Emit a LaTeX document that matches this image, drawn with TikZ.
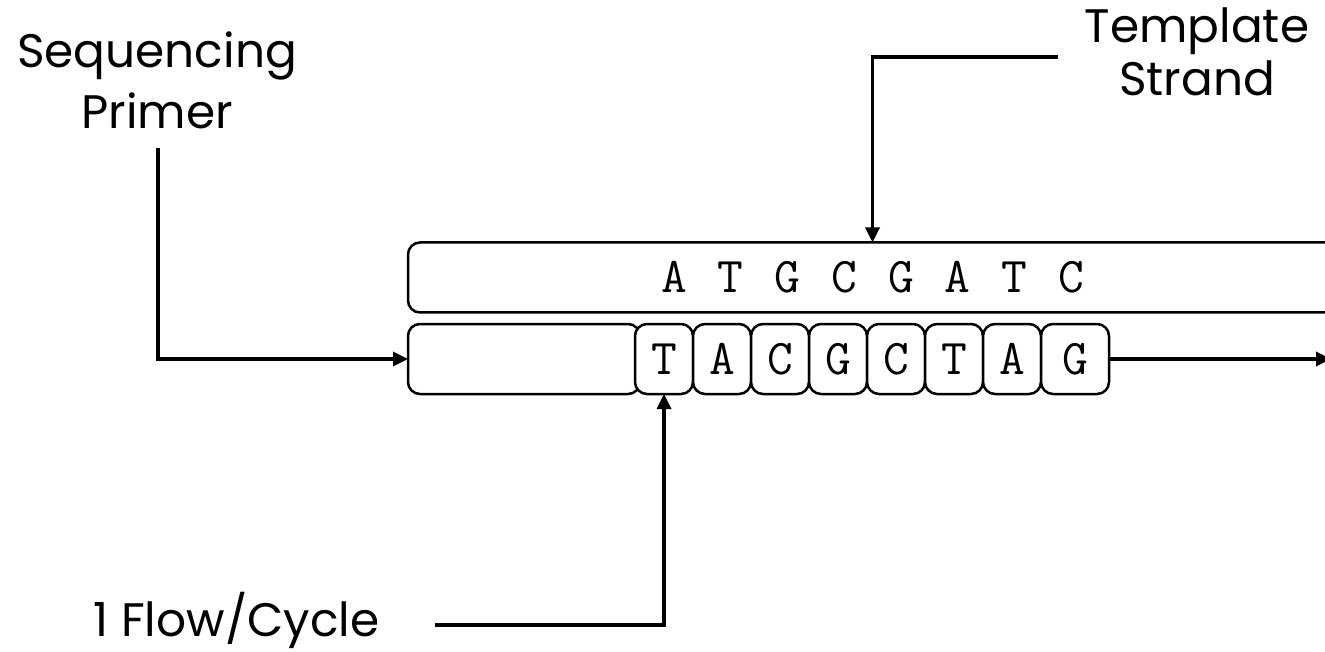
\documentclass[tikz,border=0pt]{standalone}
\usepackage{fontspec}
\setmainfont{Poppins}
\usetikzlibrary{arrows.meta, positioning}
\tikzstyle{strand}=[draw,rectangle,rounded corners=12,line width=2.5,minimum height=70,inner sep=0,outer sep=0]
\tikzstyle{basebox}=[strand,fill=white,minimum width=58,font=\ttfamily\fontsize{50}{50}\selectfont]
\tikzstyle{caption}=[align=center,inner sep=0]
\tikzstyle{every node}=[font=\fontsize{47}{60}\selectfont]

\begin{document}
\begin{tikzpicture}[x=1pt,y=-1pt,>={Triangle[length=15,width=14]},line width=3.3]
    \useasboundingbox (0,0) rectangle (1325,652);
    % strands
    \node[strand,minimum width=929,font=\ttfamily\fontsize{50}{50}\selectfont] (template) at (872.5,277.5) {\spaceskip=31pt A T G C G A T C};
    \node[strand,minimum width=232] (primer) at (524,359) {};
    \node[basebox] (b1) at (664,359) {T};
    \node[basebox,right=0 of b1] (b2) {A};
    \node[basebox,right=0 of b2] (b3) {C};
    \node[basebox,right=0 of b3] (b4) {G};
    \node[basebox,right=0 of b4] (b5) {C};
    \node[basebox,right=0 of b5] (b6) {T};
    \node[basebox,right=0 of b6] (b7) {A};
    \node[basebox,right=0 of b7,minimum width=68] (b8) {G};
    % labels
    \node[caption,font=\fontsize{47}{61}\selectfont] (seqlbl) at (157,80) {Sequencing\\Primer};
    \node[caption,font=\fontsize{47}{53}\selectfont] (tmpllbl) at (1197,52) {Template\\Strand};
    \node[anchor=base west,inner sep=0] (flowlbl) at (92,636) {1 Flow/Cycle};
    % connectors
    \coordinate (pstart) at (158,148);
    \coordinate (tstart) at (1058,57);
    \coordinate (fstart) at (435,625);
    \coordinate (tail) at (1331,359);
    \draw[->] (pstart) |- (primer.west);
    \draw[->] (tstart) -| (template.north);
    \draw[->] (fstart) -| (b1.south);
    \draw[->] (b8.east) -- (tail);
\end{tikzpicture}
\end{document}
